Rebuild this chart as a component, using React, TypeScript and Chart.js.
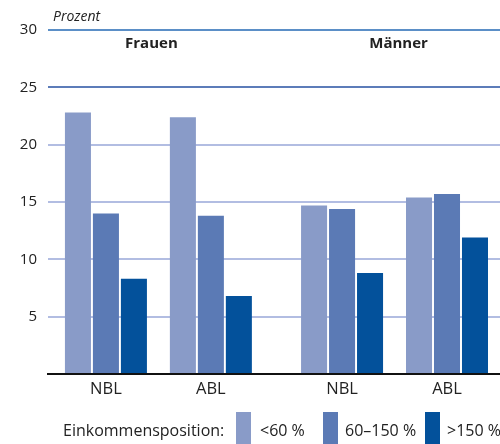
import { useEffect, useRef } from 'react';
import { Chart, registerables } from 'chart.js';

Chart.register(...registerables);

const groupLabels = ['Frauen', 'Männer'];
const regionLabels = ['NBL', 'ABL', 'NBL', 'ABL'];
const groupPositions = [0, 1, 2.25, 3.25];
const seriesLabels = ['<60 %', '60–150 %', '>150 %'];
const lowIncome = [22.8, 22.4, 14.7, 15.4];
const midIncome = [14.0, 13.8, 14.4, 15.7];
const highIncome = [8.3, 6.8, 8.8, 11.9];
const yTickValues = [5, 10, 15, 20, 25, 30];
const yTitle = 'Prozent';
const legendTitle = 'Einkommensposition:';

const colors = ['#899bc8', '#5b7ab5', '#03519b'];
const FONT = "'Open Sans', 'DejaVu Sans', sans-serif";
const TEXT = '#222222';

const overlayPlugin = {
  id: 'overlay',
  afterDraw(chart: any) {
    const { ctx, chartArea, scales } = chart;
    const x = scales.x;
    ctx.save();
    ctx.fillStyle = TEXT;
    // y title
    ctx.font = `italic 14px ${FONT}`;
    ctx.textAlign = 'left';
    ctx.textBaseline = 'alphabetic';
    ctx.fillText(yTitle, chartArea.left + 5, 21);
    // group headers
    ctx.font = `bold 15px ${FONT}`;
    ctx.textAlign = 'center';
    ctx.textBaseline = 'middle';
    const g1 = (x.getPixelForValue(groupPositions[0]) + x.getPixelForValue(groupPositions[1])) / 2 - 7;
    const g2 = (x.getPixelForValue(groupPositions[2]) + x.getPixelForValue(groupPositions[3])) / 2 + 4;
    ctx.fillText(groupLabels[0], g1, 44);
    ctx.fillText(groupLabels[1], g2, 44);
    // legend
    ctx.font = `16px ${FONT}`;
    ctx.textAlign = 'left';
    ctx.textBaseline = 'middle';
    const ly = 431;
    ctx.fillText(legendTitle, 63, ly);
    const boxX = [236, 323, 425];
    const textX = [260, 345, 447];
    seriesLabels.forEach((lab, i) => {
      ctx.fillStyle = colors[i];
      ctx.fillRect(boxX[i], 412, 15, 32);
      ctx.fillStyle = TEXT;
      ctx.fillText(lab, textX[i], ly);
    });
    ctx.restore();
  },
};

export default function App() {
  const ref = useRef<HTMLCanvasElement>(null);
  useEffect(() => {
    document.body.style.margin = '0';
    const series = [lowIncome, midIncome, highIncome];
    const chart = new Chart(ref.current!, {
      type: 'bar',
      data: {
        datasets: series.map((vals, i) => ({
          label: seriesLabels[i],
          data: groupPositions.map((p, j) => ({ x: p, y: vals[j] })),
          backgroundColor: colors[i],
          borderWidth: 0,
          categoryPercentage: 0.8,
          barPercentage: 0.93,
        })),
      },
      options: {
        animation: false,
        responsive: false,
        maintainAspectRatio: false,
        layout: { padding: { top: 30, right: 0, bottom: 40, left: 0 } },
        plugins: {
          legend: { display: false },
          tooltip: { enabled: false },
          title: { display: false },
        },
        scales: {
          x: {
            type: 'linear',
            offset: false,
            min: -0.552,
            max: 3.755,
            z: 1,
            afterBuildTicks: (scale: any) => {
              scale.ticks = groupPositions.map((v) => ({ value: v }));
            },
            afterFit: (scale: any) => {
              scale.height = 30;
            },
            grid: { display: false, drawTicks: false, offset: false },
            border: { display: true, color: '#111111', width: 2 },
            ticks: {
              autoSkip: false,
              maxRotation: 0,
              padding: 5,
              color: TEXT,
              font: { family: FONT, size: 16.5 },
              callback: (_v: any, i: number) => regionLabels[i],
            },
          },
          y: {
            min: 0,
            max: 30,
            afterBuildTicks: (scale: any) => {
              scale.ticks = [0, ...yTickValues].map((v) => ({ value: v }));
            },
            afterFit: (scale: any) => {
              scale.width = 48;
            },
            grid: {
              drawTicks: false,
              lineWidth: 2,
              color: (c: any) => {
                const v = c.tick && c.tick.value;
                if (v === 30) return '#5b8fc7';
                if (v === 25) return '#5c7cb9';
                if (v === 0) return 'rgba(0,0,0,0)';
                return '#b2bde2';
              },
            },
            border: { display: false },
            ticks: {
              padding: 11,
              color: TEXT,
              font: { family: FONT, size: 15 },
              callback: (v: any) => (v === 0 ? '' : String(v)),
            },
          },
        },
      },
      plugins: [overlayPlugin],
    });
    return () => chart.destroy();
  }, []);
  return (
    <div style={{ width: 500, height: 444 }}>
      <canvas ref={ref} width={500} height={444} />
    </div>
  );
}
